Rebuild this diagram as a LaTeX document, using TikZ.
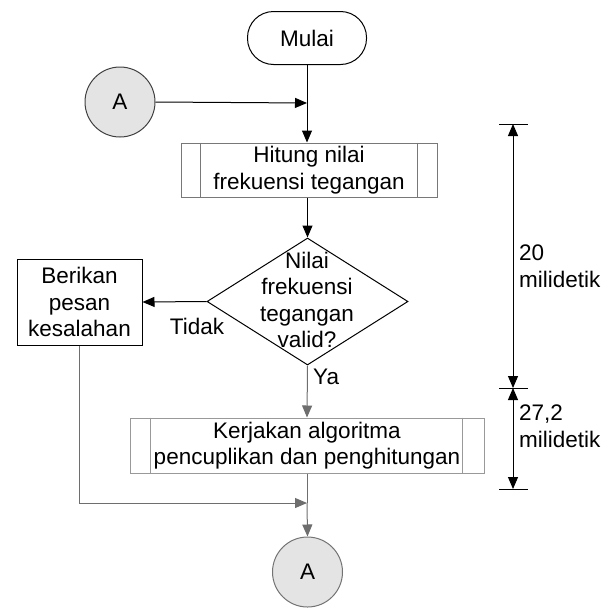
\documentclass[tikz,border=0pt]{standalone}
\usepackage{fontspec}
\setmainfont{Liberation Sans}
\usetikzlibrary{shapes.geometric,arrows.meta,calc}
\definecolor{boxgray}{RGB}{120,120,120}
\definecolor{lightfill}{RGB}{228,228,228}
\definecolor{arrgray}{RGB}{110,110,110}
\begin{document}
\begin{tikzpicture}[x=1pt,y=-1pt,
  txt/.style={font=\fontsize{22.5}{26.5}\selectfont, align=center},
  arr/.style={-{Triangle[length=12pt,width=10pt]}, line width=1pt},
  garr/.style={arr, draw=arrgray},
  dimarr/.style={{Triangle[length=12pt,width=10pt]}-{Triangle[length=12pt,width=10pt]}, line width=1pt},
  procbox/.style={draw=boxgray, line width=1pt, inner sep=0pt, txt},
  conn/.style={circle, draw=black!75, fill=lightfill, line width=1pt, minimum size=70pt, inner sep=0pt, txt}
]
\useasboundingbox (0,0) rectangle (609,608);

% nodes
\node[draw, line width=1pt, rounded corners=26pt, minimum width=119pt, minimum height=53pt, inner sep=0pt, txt] (mulai) at (307,38) {Mulai};
\node[conn] (atop) at (120,102) {A};
\node[procbox, minimum width=256pt, minimum height=54pt] (hitung) at (309,170) {Hitung nilai\\frekuensi tegangan};
\draw[boxgray, line width=1pt] ($(hitung.north west)+(20,0)$) -- ($(hitung.south west)+(20,0)$);
\draw[boxgray, line width=1pt] ($(hitung.north east)+(-20,0)$) -- ($(hitung.south east)+(-20,0)$);
\node[diamond, draw, line width=1pt, minimum width=201pt, minimum height=127pt, inner sep=0pt] (dec) at (307.5,301.5) {};
\node[txt] (dectext) at (307,300) {Nilai\\frekuensi\\tegangan\\valid?};
\node[draw, line width=1pt, minimum width=125pt, minimum height=86pt, inner sep=0pt, txt] (berikan) at (79.5,302) {Berikan\\pesan\\kesalahan};
\node[procbox, draw=black!40, minimum width=354pt, minimum height=55pt] (kerja) at (307,445.5) {Kerjakan algoritma\\pencuplikan dan penghitungan};
\draw[black!40, line width=1pt] ($(kerja.north west)+(21,0)$) -- ($(kerja.south west)+(21,0)$);
\draw[black!40, line width=1pt] ($(kerja.north east)+(-22,0)$) -- ($(kerja.south east)+(-22,0)$);
\node[conn, draw=black!55] (abot) at (307.5,572) {A};

\node[txt, anchor=center] (tidak) at (197,326) {Tidak};
\node[txt, anchor=west, inner sep=0pt] (ya) at (313,377) {Ya};

% junctions
\coordinate (j1) at (307,103);
\coordinate (j2) at (307,503);
\coordinate (bcorner) at (berikan.south |- j2);

% connectors
\draw[line width=1pt] (mulai.south) -- (j1);
\draw[arr] (j1) -- (hitung.north -| j1);
\draw[arr] (atop.east) -- (j1);
\draw[arr] (hitung.south -| dec.north) -- (dec.north);
\draw[arr] (dec.west) -- (berikan.east);
\draw[garr] (dec.south) -- (kerja.north);
\draw[draw=arrgray, line width=1pt] (kerja.south) -- (j2);
\draw[garr] (j2) -- (abot.north);
\draw[garr] (berikan.south) -- (bcorner) -- (j2);

% dimensions
\coordinate (d1) at (513,124);
\coordinate (d2) at (513,388);
\coordinate (d3) at (513,489);
\draw[line width=1pt] ($(d1)+(-14,0)$) -- ($(d1)+(15,0)$);
\draw[line width=1pt] ($(d2)+(-14,0)$) -- ($(d2)+(15,0)$);
\draw[line width=1pt] ($(d3)+(-14,0)$) -- ($(d3)+(15,0)$);
\draw[dimarr] (d1) -- (d2);
\draw[dimarr] (d2) -- (d3);
\node[txt, align=left, anchor=west, inner sep=0pt] (lab1) at (519,266) {20\\milidetik};
\node[txt, align=left, anchor=west, inner sep=0pt] (lab2) at (519,426) {27,2\\milidetik};
\end{tikzpicture}
\end{document}
